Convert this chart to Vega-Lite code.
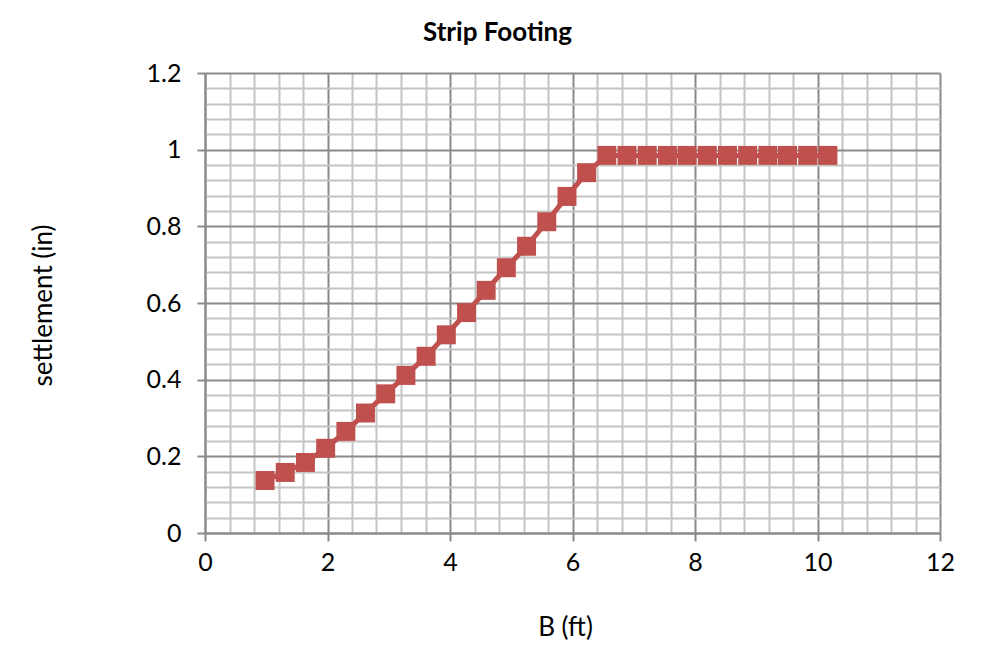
{
  "$schema": "https://vega.github.io/schema/vega-lite/v6.json",
  "autosize": "none",
  "width": 735,
  "height": 460,
  "padding": {"left": 205, "top": 73, "right": 56, "bottom": 134},
  "background": "white",
  "title": {
    "text": "Strip Footing",
    "font": "Lato",
    "fontSize": 26,
    "fontWeight": "bold",
    "color": "black",
    "anchor": "middle",
    "dx": -75,
    "offset": 15
  },
  "data": {
    "values": [
      {"B": 0.98, "settlement": 0.137},
      {"B": 1.31, "settlement": 0.158},
      {"B": 1.64, "settlement": 0.184},
      {"B": 1.97, "settlement": 0.221},
      {"B": 2.30, "settlement": 0.265},
      {"B": 2.62, "settlement": 0.313},
      {"B": 2.95, "settlement": 0.363},
      {"B": 3.28, "settlement": 0.411},
      {"B": 3.61, "settlement": 0.461},
      {"B": 3.94, "settlement": 0.517},
      {"B": 4.27, "settlement": 0.575},
      {"B": 4.59, "settlement": 0.633},
      {"B": 4.92, "settlement": 0.692},
      {"B": 5.25, "settlement": 0.748},
      {"B": 5.58, "settlement": 0.812},
      {"B": 5.91, "settlement": 0.878},
      {"B": 6.23, "settlement": 0.940},
      {"B": 6.56, "settlement": 0.985},
      {"B": 6.89, "settlement": 0.985},
      {"B": 7.22, "settlement": 0.985},
      {"B": 7.55, "settlement": 0.985},
      {"B": 7.87, "settlement": 0.985},
      {"B": 8.20, "settlement": 0.985},
      {"B": 8.53, "settlement": 0.985},
      {"B": 8.86, "settlement": 0.985},
      {"B": 9.19, "settlement": 0.985},
      {"B": 9.51, "settlement": 0.985},
      {"B": 9.84, "settlement": 0.985},
      {"B": 10.17, "settlement": 0.985}
    ]
  },
  "mark": {
    "type": "line",
    "color": "#C0504D",
    "strokeWidth": 5,
    "point": {"shape": "square", "size": 360, "filled": true, "opacity": 1, "color": "#C0504D"}
  },
  "encoding": {
    "x": {
      "field": "B",
      "type": "quantitative",
      "scale": {"domain": [0, 12], "nice": false, "zero": false},
      "axis": {
        "title": "B (ft)",
        "values": [0, 0.4, 0.8, 1.2, 1.6, 2, 2.4, 2.8, 3.2, 3.6, 4, 4.4, 4.8, 5.2, 5.6, 6, 6.4, 6.8, 7.2, 7.6, 8, 8.4, 8.8, 9.2, 9.6, 10, 10.4, 10.8, 11.2, 11.6, 12],
        "labelExpr": "abs(datum.value/2 - round(datum.value/2)) < 1e-6 ? format(datum.value, '~f') : ''",
        "grid": true,
        "gridColor": {"condition": {"test": "abs(datum.value/2 - round(datum.value/2)) < 1e-6", "value": "#8a8a8a"}, "value": "#c4c4c4"},
        "gridWidth": 2,
        "tickOpacity": {"condition": {"test": "abs(datum.value/2 - round(datum.value/2)) < 1e-6", "value": 1}, "value": 0},
        "tickColor": "#8a8a8a",
        "tickWidth": 2,
        "tickSize": 8,
        "domainColor": "#8a8a8a",
        "domainWidth": 2,
        "labelPadding": 9,
        "labelFlush": false,
        "labelOverlap": false,
        "titleX": 360,
        "titleY": 94,
        "titleBaseline": "middle"
      }
    },
    "y": {
      "field": "settlement",
      "type": "quantitative",
      "scale": {"domain": [0, 1.2], "nice": false, "zero": false},
      "axis": {
        "title": "settlement (in)",
        "values": [0, 0.04, 0.08, 0.12, 0.16, 0.2, 0.24, 0.28, 0.32, 0.36, 0.4, 0.44, 0.48, 0.52, 0.56, 0.6, 0.64, 0.68, 0.72, 0.76, 0.8, 0.84, 0.88, 0.92, 0.96, 1, 1.04, 1.08, 1.12, 1.16, 1.2],
        "labelExpr": "abs(datum.value*5 - round(datum.value*5)) < 1e-6 ? format(datum.value, '.1~f') : ''",
        "grid": true,
        "gridColor": {"condition": {"test": "abs(datum.value*5 - round(datum.value*5)) < 1e-6", "value": "#8a8a8a"}, "value": "#c4c4c4"},
        "gridWidth": 2,
        "tickOpacity": {"condition": {"test": "abs(datum.value*5 - round(datum.value*5)) < 1e-6", "value": 1}, "value": 0},
        "tickColor": "#8a8a8a",
        "tickWidth": 2,
        "tickSize": 8,
        "domainColor": "#8a8a8a",
        "domainWidth": 2,
        "labelPadding": 16,
        "labelFlush": false,
        "labelOverlap": false,
        "titleX": -162,
        "titleY": 232,
        "titleAlign": "center",
        "titleBaseline": "middle",
        "titleAngle": -90
      }
    }
  },
  "config": {
    "view": {"stroke": null},
    "axis": {
      "labelFont": "Lato",
      "labelFontSize": 25,
      "labelColor": "black",
      "titleFont": "Lato",
      "titleFontSize": 26,
      "titleFontWeight": "normal",
      "titleColor": "black"
    }
  }
}
